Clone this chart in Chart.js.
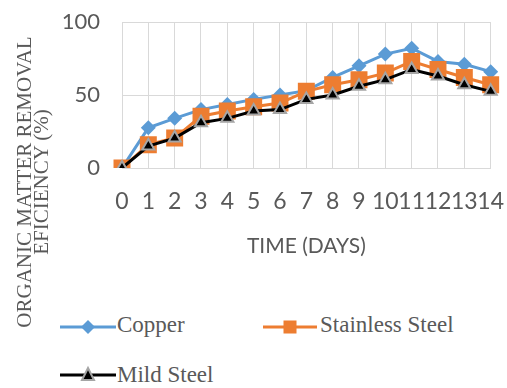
<!DOCTYPE html>
<html>
<head>
<meta charset="utf-8">
<script src="https://cdn.jsdelivr.net/npm/chart.js@4"></script>
<style>
  html, body { margin: 0; padding: 0; background: #fff; }
  #wrap { position: relative; width: 507px; height: 388px; overflow: hidden; }
  #chartBox { position: absolute; left: 0; top: 0; width: 507px; height: 270px; }
  #yTitle {
    position: absolute; left: -137px; top: 165px; width: 340px; height: 34px;
    transform: rotate(-90deg);
    font-family: 'Liberation Serif', serif; font-size: 21px; line-height: 16.5px;
    color: #595959; text-align: center; white-space: nowrap;
  }
  .leg { position: absolute; font-family: 'Liberation Serif', serif; font-size: 23px; line-height: 30px; color: #595959; white-space: nowrap; }
  .icon { position: absolute; }
</style>
</head>
<body>
<div id="wrap">
  <div id="chartBox"><canvas id="myChart"></canvas></div>
  <div id="yTitle">ORGANIC MATTER REMOVAL<br>EFICIENCY (%)</div>

  <svg class="icon" style="left:60px; top:317px" width="56" height="20">
    <line x1="0" y1="10" x2="56" y2="10" stroke="#5b9bd5" stroke-width="3"/>
    <polygon points="28,3 35,10 28,17 21,10" fill="#5b9bd5"/>
  </svg>
  <div class="leg" style="left:117px; top:310px">Copper</div>

  <svg class="icon" style="left:263px; top:317px" width="54" height="20">
    <line x1="0" y1="10" x2="54" y2="10" stroke="#ed7d31" stroke-width="3"/>
    <rect x="20.5" y="3.5" width="13" height="13" fill="#ed7d31"/>
  </svg>
  <div class="leg" style="left:320px; top:310px">Stainless Steel</div>

  <svg class="icon" style="left:60px; top:365px" width="56" height="20">
    <line x1="0" y1="10" x2="56" y2="10" stroke="#000" stroke-width="3"/>
    <polygon points="28,3 34,15 22,15" fill="#000" stroke="#a5a5a5" stroke-width="2"/>
  </svg>
  <div class="leg" style="left:117px; top:360px">Mild Steel</div>
</div>

<script>
// Data
const days = ['0', '1', '2', '3', '4', '5', '6', '7', '8', '9', '10', '11', '12', '13', '14'];
const copper = [0, 27.5, 34, 40, 43.5, 47, 50, 53, 62, 70, 78, 82, 73, 71, 66];
const stainless = [0, 16, 20.5, 35.5, 39, 42, 44.5, 52.5, 57, 60.5, 65, 73, 67.5, 62, 57];
const mild = [0, 15, 20.5, 31, 34, 39, 40, 47, 50, 56, 60.5, 67.5, 63, 57, 52.5];
const yTicks = [0, 50, 100];

const gridColor = '#d9d9d9';
const tickColor = '#595959';

const data = {
  labels: days,
  datasets: [{
    label: 'Copper',
    data: copper,
    borderColor: '#5b9bd5',
    backgroundColor: '#5b9bd5',
    borderWidth: 3,
    pointStyle: 'rectRot',
    pointRadius: 7.5,
    pointBorderWidth: 0,
    order: 2
  }, {
    label: 'Stainless Steel',
    data: stainless,
    borderColor: '#ed7d31',
    backgroundColor: '#ed7d31',
    borderWidth: 3,
    pointStyle: 'rect',
    pointRadius: 12,
    pointBorderWidth: 0,
    order: 1
  }, {
    label: 'Mild Steel',
    data: mild,
    borderColor: '#000000',
    backgroundColor: '#000000',
    borderWidth: 3,
    pointStyle: 'triangle',
    pointRadius: 7,
    pointBorderColor: '#a5a5a5',
    pointBorderWidth: 2,
    order: 0
  }]
};

const config = {
  type: 'line',
  data: data,
  options: {
    responsive: true,
    maintainAspectRatio: false,
    animation: false,
    layout: { padding: { left: 0, right: 16, top: 22, bottom: 0 } },
    plugins: {
      legend: { display: false },
      tooltip: { enabled: false }
    },
    scales: {
      x: {
        offset: false,
        // tick marks kept invisible, their length only spaces the labels
        grid: { color: gridColor, lineWidth: 1, drawTicks: true, tickLength: 17, tickColor: 'rgba(0,0,0,0)' },
        border: { color: gridColor },
        ticks: {
          color: tickColor,
          font: { family: 'Lato', size: 23 },
          padding: 3,
          autoSkip: false,
          maxRotation: 0,
          minRotation: 0
        },
        title: {
          display: true,
          text: 'TIME (DAYS)',
          color: tickColor,
          font: { family: 'Lato', size: 21 },
          padding: { top: 0, bottom: 11 }
        },
        afterFit: (scale) => { scale.height = 102; }
      },
      y: {
        min: 0,
        max: 100,
        grid: { color: gridColor, lineWidth: 1, drawTicks: true, tickLength: 19, tickColor: 'rgba(0,0,0,0)' },
        border: { color: gridColor },
        afterBuildTicks: (scale) => { scale.ticks = yTicks.map(v => ({ value: v })); },
        ticks: {
          color: tickColor,
          font: { family: 'Lato', size: 22 },
          padding: 3
        },
        afterFit: (scale) => { scale.width = 122; }
      }
    }
  }
};

const myChart = new Chart(document.getElementById('myChart'), config);
</script>
</body>
</html>
